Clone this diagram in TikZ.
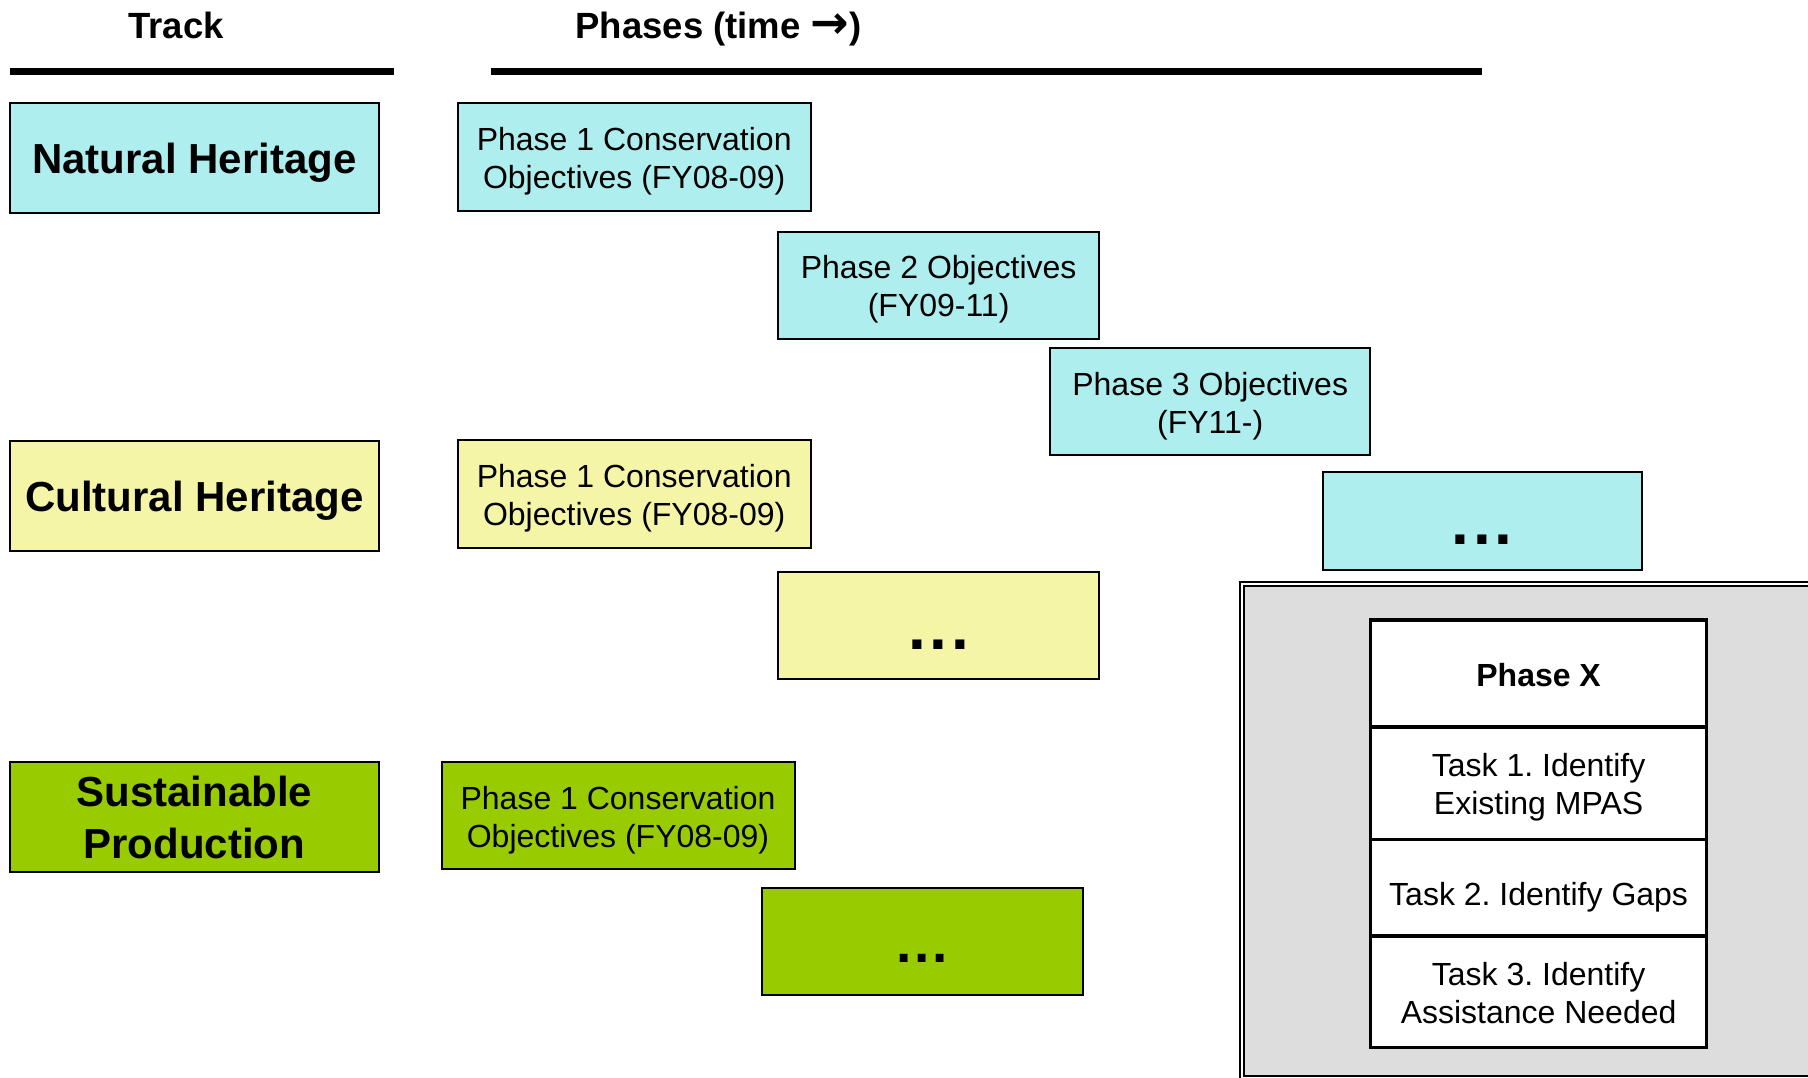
\documentclass[tikz,border=0pt]{standalone}
\usepackage{fontspec}
\setmainfont{Liberation Sans}
\newfontfamily\arrowfont{DejaVu Sans}
\definecolor{nhcol}{RGB}{175,238,238}
\definecolor{chcol}{RGB}{245,245,168}
\definecolor{spcol}{RGB}{153,204,0}
\definecolor{graycol}{RGB}{221,221,221}
\frenchspacing
\tikzset{
  box/.style={rectangle, draw=black, line width=2pt, inner sep=0pt, align=center,
    font=\fontsize{32}{38}\selectfont, text height=63pt, text depth=0pt},
  trk/.style={box, font=\fontsize{42}{51.6}\selectfont\bfseries, text height=31pt,
    minimum width=368.5pt, minimum height=110pt},
  phbox/.style={box, minimum width=353pt, minimum height=108pt},
  midbox/.style={box, minimum width=320.6pt, minimum height=107pt},
  dotsbig/.style={font=\fontsize{64}{64}\selectfont\bfseries, text height=48pt},
  dotssmall/.style={font=\fontsize{55}{55}\selectfont\bfseries, text height=41pt},
  hdr/.style={font=\fontsize{36.5}{40}\selectfont\bfseries, inner sep=0pt},
  hline/.style={line width=7pt},
  tabrow/.style={rectangle, draw=black, line width=3.5pt, fill=white, inner sep=0pt,
    align=center, minimum width=335.8pt, font=\fontsize{32}{38}\selectfont,
    text height=63pt, text depth=0pt},
}
\begin{document}
\begin{tikzpicture}[x=1pt,y=-1pt]
\useasboundingbox (0,0) rectangle (1808,1077);
\clip (0,0) rectangle (1808,1077);
% headers
\node[hdr, anchor=base] (track) at (176,38.5) {Track};
\node[hdr, anchor=base] (phases) at (718.5,38.5) {Phases (time {\arrowfont\fontsize{46}{48}\selectfont\bfseries →})};
\coordinate (tl1) at (10,71.3);
\coordinate (tl2) at (394,71.3);
\coordinate (pl1) at (490.7,71.3);
\coordinate (pl2) at (1482,71.3);
\draw[hline] (tl1) -- (tl2);
\draw[hline] (pl1) -- (pl2);
% tracks
\node[trk, fill=nhcol] (nh) at (194.25,158) {Natural Heritage};
\node[trk, fill=chcol] (ch) at (194.25,496.4) {Cultural Heritage};
\node[trk, fill=spcol, text height=82.6pt] (sp) at (194.25,817) {Sustainable\\Production};
% natural heritage phases
\node[phbox, fill=nhcol] (p1nh) at (634.2,157.4) {Phase 1 Conservation\\Objectives (FY08-09)};
\node[midbox, fill=nhcol] (p2nh) at (938.6,285.4) {Phase 2 Objectives\\(FY09-11)};
\node[midbox, fill=nhcol, minimum width=319.5pt] (p3nh) at (1210.2,401.8) {Phase 3 Objectives\\(FY11-)};
\node[midbox, dotsbig, fill=nhcol, minimum width=319.5pt, minimum height=98pt] (dnh) at (1482.3,520.8) {.\kern3.7pt.\kern3.7pt.};
% cultural heritage phases
\node[phbox, fill=chcol] (p1ch) at (634.2,493.5) {Phase 1 Conservation\\Objectives (FY08-09)};
\node[midbox, dotsbig, fill=chcol] (dch) at (938.6,625.6) {.\kern3.7pt.\kern3.7pt.};
% sustainable production phases
\node[phbox, fill=spcol, minimum height=107pt] (p1sp) at (618,815.8) {Phase 1 Conservation\\Objectives (FY08-09)};
\node[midbox, dotssmall, fill=spcol] (dsp) at (922.5,941.5) {.\kern2.7pt.\kern2.7pt.};
% grey panel with double border
\draw[line width=2pt, fill=white] (1239.5,581.5) rectangle (1905,1081);
\draw[line width=2pt, fill=graycol] (1244,586) rectangle (1900,1076);
% phase X table
\node[tabrow, minimum height=107pt, text height=25pt] (px) at (1538.6,673.5) {\bfseries Phase X};
\node[tabrow, minimum height=112.4pt] (t1) at (1538.6,783.2) {Task 1. Identify\\Existing MPAS};
\node[tabrow, minimum height=96.8pt, text height=36pt] (t2) at (1538.6,887.8) {Task 2. Identify Gaps};
\node[tabrow, minimum height=111.4pt] (t3) at (1538.6,991.9) {Task 3. Identify\\Assistance Needed};
\end{tikzpicture}
\end{document}
